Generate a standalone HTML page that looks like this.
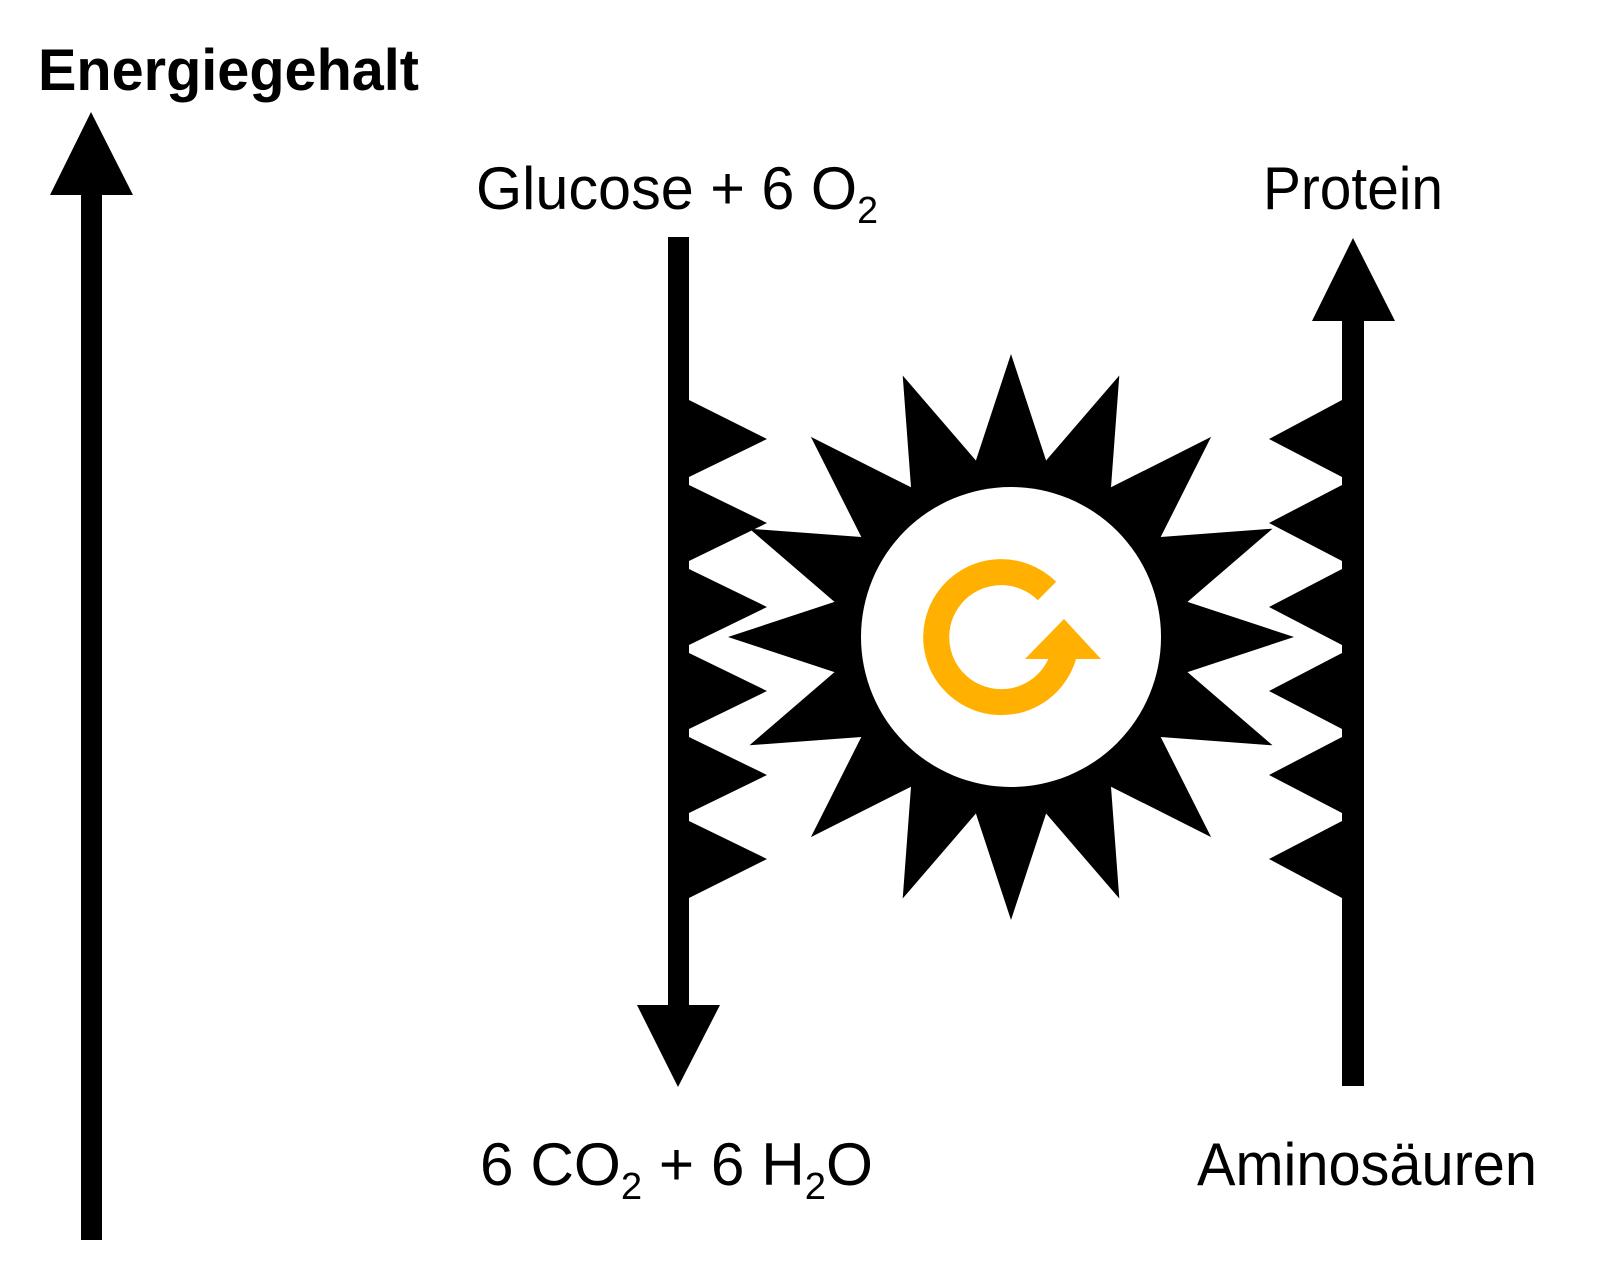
<!DOCTYPE html>
<html><head><meta charset="utf-8"><style>html,body{margin:0;padding:0;background:#fff}svg{display:block}</style></head>
<body>
<svg width="1600" height="1282" viewBox="0 0 1600 1282" xmlns="http://www.w3.org/2000/svg">
<rect width="1600" height="1282" fill="#fff"/>
<!-- Energie arrow -->
<rect x="81" y="190" width="21" height="1050" fill="#000"/>
<polygon points="91,112 133,195 50,195" fill="#000"/>
<text x="38" y="90" font-family="Liberation Sans, sans-serif" font-weight="bold" font-size="58" textLength="381" lengthAdjust="spacingAndGlyphs">Energiegehalt</text>
<!-- Glucose arrow -->
<rect x="668" y="237" width="21" height="772" fill="#000"/>
<polygon points="637,1005 720,1005 678,1087" fill="#000"/>
<polygon points="689,400 767,439 689,477 689,485 767,523 689,561 689,569 767,607 689,645 689,653 767,691 689,729 689,737 767,775 689,813 689,821 767,859 689,898" fill="#000"/>
<!-- Protein arrow -->
<rect x="1342" y="318" width="22" height="768" fill="#000"/>
<polygon points="1353,238 1395,321 1312,321" fill="#000"/>
<polygon points="1342,400 1269,439 1342,477 1342,485 1269,523 1342,561 1342,569 1269,607 1342,645 1342,653 1269,691 1342,729 1342,737 1269,775 1342,813 1342,821 1269,859 1342,898" fill="#000"/>
<!-- Star -->
<polygon id="star" fill="#000" points=""/>
<circle cx="1011" cy="637" r="150" fill="#fff"/>
<!-- orange cycle -->
<path d="M1047,591 A65,65 0 1 0 1064,654" fill="none" stroke="#FFB000" stroke-width="26"/>
<polygon points="1025,659 1064,619 1101,659" fill="#FFB000"/>
<!-- labels -->
<g font-family="Liberation Sans, sans-serif" font-size="60" fill="#000">
<text x="476" y="209" textLength="402" lengthAdjust="spacingAndGlyphs">Glucose + 6 O<tspan font-size="38" dy="14">2</tspan></text>
<text x="1263" y="209" textLength="180" lengthAdjust="spacingAndGlyphs">Protein</text>
<text x="480" y="1185" textLength="393" lengthAdjust="spacingAndGlyphs">6 CO<tspan font-size="38" dy="14">2</tspan><tspan dy="-14"> + 6 H</tspan><tspan font-size="38" dy="14">2</tspan><tspan dy="-14">O</tspan></text>
<text x="1197" y="1185" textLength="340" lengthAdjust="spacingAndGlyphs">Aminosäuren</text>
</g>
<script>
var p=[],cx=1011,cy=637;
for(var i=0;i<32;i++){var a=-Math.PI/2+i*Math.PI/16;var r=(i%2==0)?283:180;p.push((cx+r*Math.cos(a)).toFixed(1)+","+(cy+r*Math.sin(a)).toFixed(1));}
document.getElementById("star").setAttribute("points",p.join(" "));
</script>
</svg>
</body></html>
